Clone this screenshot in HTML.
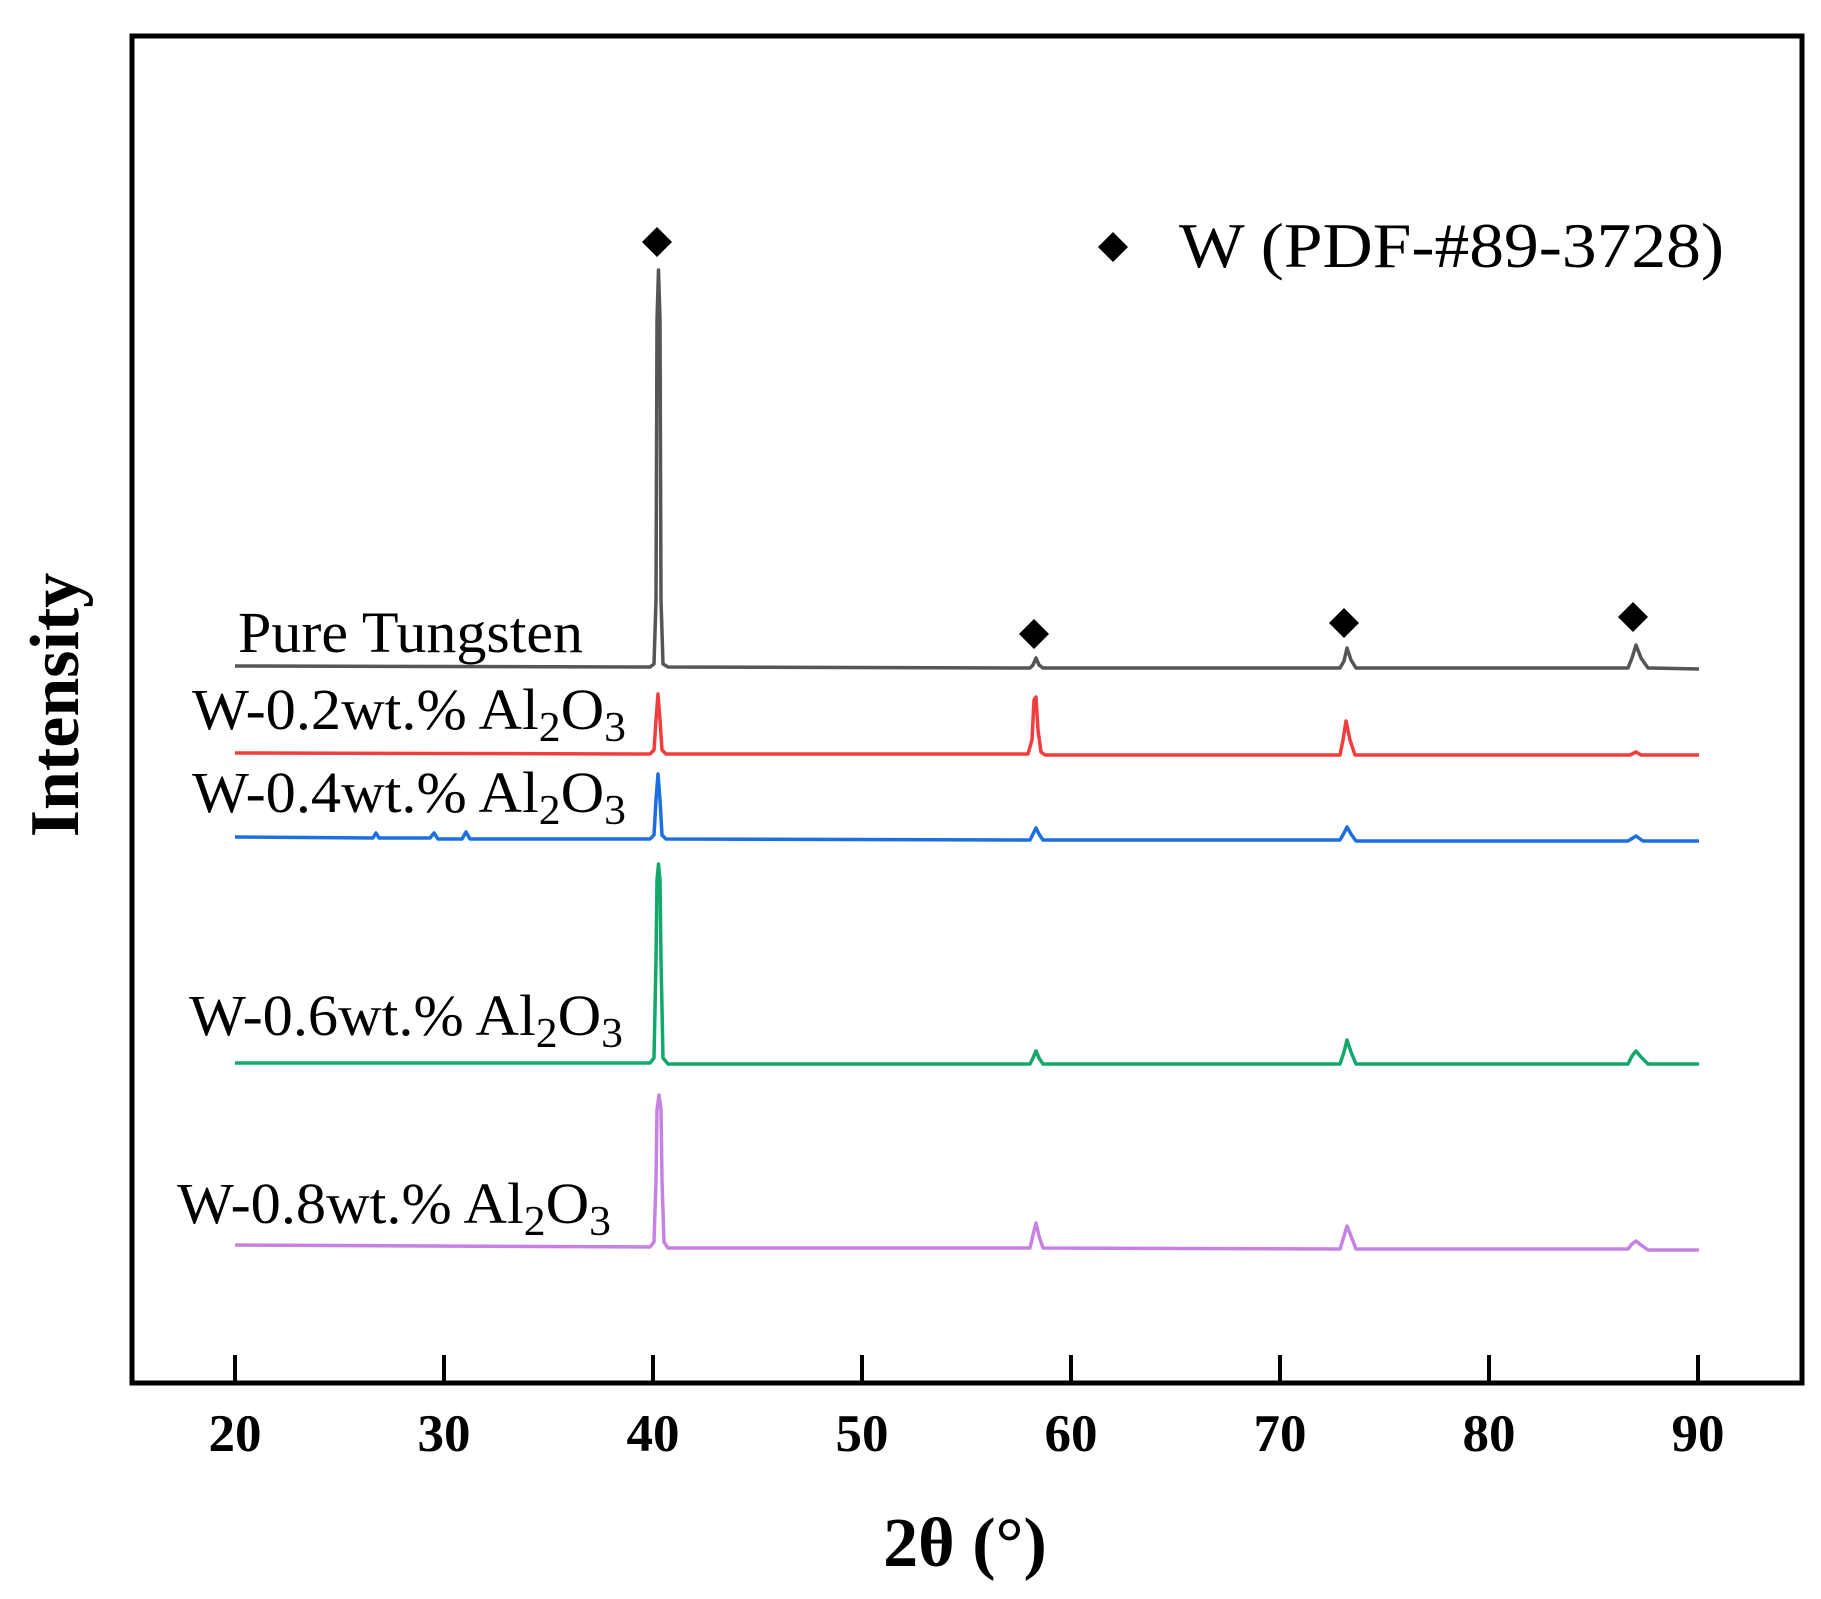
<!DOCTYPE html>
<html><head><meta charset="utf-8"><style>
html,body{margin:0;padding:0;background:#fff;}
svg{display:block;}
text{font-family:"Liberation Serif",serif;}
</style></head><body>
<svg width="1821" height="1599" viewBox="0 0 1821 1599" xmlns="http://www.w3.org/2000/svg">
<rect x="0" y="0" width="1821" height="1599" fill="#fff"/>
<rect x="132" y="36" width="1670" height="1347" fill="none" stroke="#000" stroke-width="5"/>
<g stroke="#000" stroke-width="4">
<line x1="235" y1="1383" x2="235" y2="1355"/>
<line x1="444" y1="1383" x2="444" y2="1355"/>
<line x1="653" y1="1383" x2="653" y2="1355"/>
<line x1="862" y1="1383" x2="862" y2="1355"/>
<line x1="1071" y1="1383" x2="1071" y2="1355"/>
<line x1="1280" y1="1383" x2="1280" y2="1355"/>
<line x1="1489" y1="1383" x2="1489" y2="1355"/>
<line x1="1698" y1="1383" x2="1698" y2="1355"/>
</g>
<g font-size="53" font-weight="bold" text-anchor="middle">
<text x="235" y="1451">20</text>
<text x="444" y="1451">30</text>
<text x="653" y="1451">40</text>
<text x="862" y="1451">50</text>
<text x="1071" y="1451">60</text>
<text x="1280" y="1451">70</text>
<text x="1489" y="1451">80</text>
<text x="1698" y="1451">90</text>
</g>
<text x="965" y="1566" font-size="70" font-weight="bold" text-anchor="middle">2θ (°)</text>
<text transform="translate(78,705) rotate(-90)" font-size="70" font-weight="bold" text-anchor="middle">Intensity</text>

<g fill="none" stroke-width="3.5" stroke-linejoin="round">
<path stroke="#555" d="M235,666 L650,667 L654,664 L656,600 L657,320 L658.5,270 L660,320 L661,600 L663,664 L668,667 L1030,668 L1033,665 L1036,658 L1039,665 L1043,668 L1340,668 L1344,661 L1347,648 L1351,660 L1356,668 L1628,668 L1632,658 L1636,645 L1641,658 L1648,668 L1699,669"/>
<path stroke="#f23d3d" d="M235,753 L650,754 L654,750 L656,720 L658,694 L660,720 L662,750 L666,754 L1028,754 L1032,740 L1034,700 L1036,697 L1038,730 L1041,752 L1045,755 L1340,755 L1343,740 L1346,721 L1350,740 L1355,755 L1630,755 L1636,752 L1641,755 L1699,755"/>
<path stroke="#1c6fe0" d="M235,837 L373,838 L376,833 L379,838 L430,838 L434,833 L438,839 L462,839 L466,832 L470,839 L650,839 L654,835 L656,800 L658,774 L660,800 L662,835 L666,839 L1030,840 L1033,834 L1036,828 L1039,834 L1043,840 L1340,840 L1344,833 L1347,827 L1351,834 L1356,841 L1628,841 L1636,836 L1643,841 L1699,841"/>
<path stroke="#12a86a" d="M235,1063 L650,1063 L654,1058 L656,960 L657,880 L658.5,864 L660,880 L661,960 L663,1058 L668,1064 L1030,1064 L1033,1058 L1036,1051 L1039,1058 L1043,1064 L1340,1064 L1344,1052 L1347,1040 L1351,1052 L1356,1064 L1628,1064 L1632,1056 L1636,1051 L1641,1057 L1648,1064 L1699,1064"/>
<path stroke="#c582e3" d="M235,1245 L650,1247 L654,1242 L656,1180 L657,1110 L659,1095 L661,1110 L662,1180 L664,1242 L668,1248 L1030,1248 L1033,1235 L1036,1223 L1039,1236 L1043,1248 L1340,1249 L1344,1236 L1347,1226 L1351,1236 L1356,1249 L1628,1249 L1632,1244 L1636,1241 L1641,1245 L1648,1250 L1699,1250"/>
</g>

<g fill="#000">
<path d="M657,227 L672,242 L657,257 L642,242 Z"/>
<path d="M1034,619 L1049,634 L1034,649 L1019,634 Z"/>
<path d="M1344,608 L1359,623 L1344,638 L1329,623 Z"/>
<path d="M1633,602 L1648,617 L1633,632 L1618,617 Z"/>
<path d="M1113,232 L1128,247 L1113,262 L1098,247 Z"/>
</g>
<text x="1179" y="267" font-size="64" textLength="545" lengthAdjust="spacingAndGlyphs">W (PDF-#89-3728)</text>

<g font-size="58">
<text x="238" y="652" textLength="345" lengthAdjust="spacingAndGlyphs">Pure Tungsten</text>
<text x="192" y="729" textLength="434" lengthAdjust="spacingAndGlyphs">W-0.2wt.% Al<tspan font-size="42" dy="12">2</tspan><tspan dy="-12">O</tspan><tspan font-size="42" dy="12">3</tspan></text>
<text x="192" y="812" textLength="434" lengthAdjust="spacingAndGlyphs">W-0.4wt.% Al<tspan font-size="42" dy="12">2</tspan><tspan dy="-12">O</tspan><tspan font-size="42" dy="12">3</tspan></text>
<text x="189" y="1035" textLength="434" lengthAdjust="spacingAndGlyphs">W-0.6wt.% Al<tspan font-size="42" dy="12">2</tspan><tspan dy="-12">O</tspan><tspan font-size="42" dy="12">3</tspan></text>
<text x="177" y="1223" textLength="434" lengthAdjust="spacingAndGlyphs">W-0.8wt.% Al<tspan font-size="42" dy="12">2</tspan><tspan dy="-12">O</tspan><tspan font-size="42" dy="12">3</tspan></text>
</g>
</svg>
</body></html>
